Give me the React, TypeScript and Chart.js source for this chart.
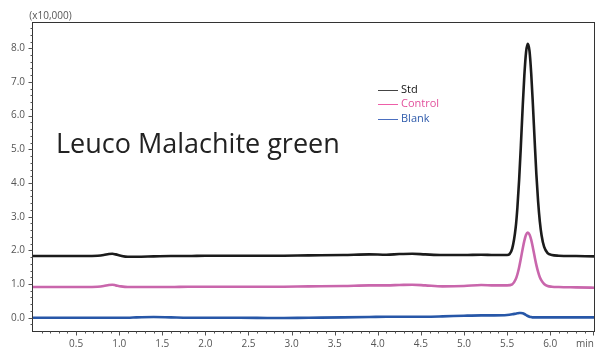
import { useEffect, useRef } from "react";
import { Chart, registerables } from "chart.js";

Chart.register(...registerables);

// Retention time (min)
const timeMin = [
  0.0, 0.2, 0.4, 0.6, 0.75, 0.82, 0.88, 0.92, 0.96, 1.02, 1.1, 1.2, 1.4, 1.6, 1.8, 2.0, 2.4, 2.8, 3.2, 3.6,
  3.9, 4.1, 4.25, 4.4, 4.55, 4.75, 5.0, 5.2, 5.35, 5.5, 5.56, 5.6, 5.62, 5.64, 5.66, 5.68, 5.7, 5.72, 5.74,
  5.76, 5.78, 5.8, 5.82, 5.84, 5.86, 5.88, 5.9, 5.93, 5.97, 6.02, 6.1, 6.3, 6.52,
];

// Signal intensity (x10,000)
const stdSignal = [
  1.83, 1.83, 1.83, 1.83, 1.84, 1.86, 1.89, 1.9, 1.88, 1.84, 1.81, 1.81, 1.82, 1.83, 1.83, 1.84, 1.84, 1.84,
  1.85, 1.86, 1.88, 1.87, 1.89, 1.9, 1.88, 1.86, 1.86, 1.87, 1.86, 1.86, 2.06, 2.68, 3.28, 4.1, 5.11, 6.2,
  7.18, 7.88, 8.13, 7.92, 7.25, 6.3, 5.25, 4.25, 3.45, 2.85, 2.45, 2.1, 1.92, 1.86, 1.84, 1.83, 1.82,
];

const controlSignal = [
  0.91, 0.91, 0.91, 0.91, 0.92, 0.94, 0.97, 0.98, 0.96, 0.93, 0.91, 0.91, 0.91, 0.91, 0.92, 0.92, 0.92, 0.92,
  0.93, 0.94, 0.96, 0.96, 0.97, 0.98, 0.96, 0.93, 0.94, 0.97, 0.96, 0.96, 0.99, 1.14, 1.29, 1.5, 1.76, 2.03,
  2.28, 2.46, 2.53, 2.47, 2.31, 2.07, 1.81, 1.56, 1.36, 1.2, 1.1, 1.0, 0.94, 0.92, 0.91, 0.9, 0.89,
];

const blankSignal = [
  0.0, 0.0, 0.0, 0.0, 0.0, 0.0, 0.0, 0.0, 0.0, 0.0, 0.0, 0.01, 0.02, 0.01, 0.0, 0.0, 0.0, -0.01, 0.0, 0.01,
  0.02, 0.03, 0.03, 0.03, 0.03, 0.04, 0.06, 0.07, 0.07, 0.08, 0.1, 0.12, 0.13, 0.14, 0.14, 0.13, 0.11, 0.08,
  0.05, 0.03, 0.02, 0.01, 0.01, 0.01, 0.01, 0.01, 0.01, 0.01, 0.01, 0.01, 0.01, 0.01, 0.01,
];

const seriesNames = ["Std", "Control", "Blank"];
const xTickLabels = [0.5, 1.0, 1.5, 2.0, 2.5, 3.0, 3.5, 4.0, 4.5, 5.0, 5.5, 6.0];
const yTickLabels = [0, 1, 2, 3, 4, 5, 6, 7, 8];
const xMinorStep = 0.1;
const yMinorStep = 0.2;
const titleText = "Leuco Malachite green";
const yUnitText = "(x10,000)";
const xUnitText = "min";

const FONT = "'Open Sans', 'Noto Sans', sans-serif";

const lineColors = ["#1b1b1b", "#c966ac", "#2757a8"];
const legendLineColors = ["#444444", "#ee5fa8", "#4b6fc0"];
const legendTextColors = ["#111111", "#e2519c", "#2f5bab"];

export default function App() {
  const ref = useRef<HTMLCanvasElement>(null);

  useEffect(() => {
    const canvas = ref.current;
    if (!canvas) return;

    const series = [stdSignal, controlSignal, blankSignal];

    const decorations = {
      id: "decorations",
      afterDraw(chart: any) {
        const { ctx, chartArea: a, scales } = chart;
        const xs = scales.x;
        const ys = scales.y;
        ctx.save();
        // frame
        ctx.strokeStyle = "#333333";
        ctx.lineWidth = 1;
        ctx.strokeRect(a.left - 0.5, a.top + 0.5, a.right - a.left, a.bottom - a.top);

        // y ticks
        ctx.strokeStyle = "#555555";
        ctx.beginPath();
        for (let v = -0.2; v <= ys.max + 1e-9; v += yMinorStep) {
          const val = Math.round(v * 10) / 10;
          const isMajor = Math.abs(val - Math.round(val)) < 1e-6;
          const py = Math.round(ys.getPixelForValue(val)) + 0.5;
          if (py < a.top || py > a.bottom) continue;
          const len = isMajor ? 4 : 2;
          ctx.moveTo(a.left - 0.5, py);
          ctx.lineTo(a.left - 0.5 - len, py);
        }
        // x ticks
        for (let v = xMinorStep; v <= xs.max + 1e-9; v += xMinorStep) {
          const val = Math.round(v * 10) / 10;
          const isMajor = Math.abs(val * 2 - Math.round(val * 2)) < 1e-6;
          const px = Math.round(xs.getPixelForValue(val)) + 0.5;
          if (px > a.right) continue;
          const len = isMajor ? 4 : 2;
          ctx.moveTo(px, a.bottom + 0.5);
          ctx.lineTo(px, a.bottom + 0.5 + len);
        }
        ctx.stroke();

        // unit labels
        ctx.fillStyle = "#555555";
        ctx.font = `10px ${FONT}`;
        ctx.textAlign = "center";
        ctx.textBaseline = "middle";
        ctx.fillText(yUnitText, a.left + 17.5, a.top - 6);
        ctx.fillText(xUnitText, a.right - 10, a.bottom + 13);

        // title
        ctx.fillStyle = "#222222";
        ctx.font = `27px ${FONT}`;
        ctx.textAlign = "left";
        ctx.textBaseline = "alphabetic";
        ctx.fillText(titleText, a.left + 23, 153);

        // legend
        ctx.font = `11px ${FONT}`;
        ctx.textBaseline = "middle";
        chart.data.datasets.forEach((ds: any, i: number) => {
          const cy = 89.5 + i * 14.7;
          ctx.strokeStyle = legendLineColors[i];
          ctx.lineWidth = 1;
          ctx.beginPath();
          ctx.moveTo(378, Math.round(cy) + 0.5);
          ctx.lineTo(398, Math.round(cy) + 0.5);
          ctx.stroke();
          ctx.fillStyle = legendTextColors[i];
          ctx.fillText(ds.label, 401, cy);
        });
        ctx.restore();
      },
    };

    const chart = new Chart(canvas, {
      type: "line",
      data: {
        datasets: seriesNames.map((name, i) => ({
          label: name,
          data: timeMin.map((t, j) => ({ x: t, y: series[i][j] })),
          borderColor: lineColors[i],
          backgroundColor: lineColors[i],
          borderWidth: 2.6,
          pointRadius: 0,
          cubicInterpolationMode: "monotone" as const,
          fill: false,
        })),
      },
      options: {
        animation: false,
        responsive: true,
        maintainAspectRatio: false,
        layout: { padding: { top: 22, right: 1, left: 0, bottom: 0 } },
        plugins: {
          legend: { display: false },
          tooltip: { enabled: false },
        },
        scales: {
          x: {
            type: "linear",
            min: 0,
            max: 6.52,
            grid: { display: false, drawTicks: false },
            border: { display: false },
            afterBuildTicks: (scale: any) => {
              scale.ticks = xTickLabels.map((v) => ({ value: v }));
            },
            afterFit: (scale: any) => {
              scale.height = 19;
            },
            ticks: {
              autoSkip: false,
              maxRotation: 0,
              padding: 7,
              color: "#555555",
              font: { family: FONT, size: 10 },
              callback: (v: any) => Number(v).toFixed(1),
            },
          },
          y: {
            type: "linear",
            min: -0.395,
            max: 8.78,
            grid: { display: false, drawTicks: false },
            border: { display: false },
            afterBuildTicks: (scale: any) => {
              scale.ticks = yTickLabels.map((v) => ({ value: v }));
            },
            afterFit: (scale: any) => {
              scale.width = 33;
            },
            ticks: {
              autoSkip: false,
              padding: 8,
              color: "#555555",
              font: { family: FONT, size: 10 },
              callback: (v: any) => Number(v).toFixed(1),
            },
          },
        },
      },
      plugins: [decorations],
    });

    return () => chart.destroy();
  }, []);

  return (
    <div style={{ position: "fixed", left: 0, top: 0, width: 596, height: 350, background: "#ffffff" }}>
      <canvas ref={ref} />
    </div>
  );
}
